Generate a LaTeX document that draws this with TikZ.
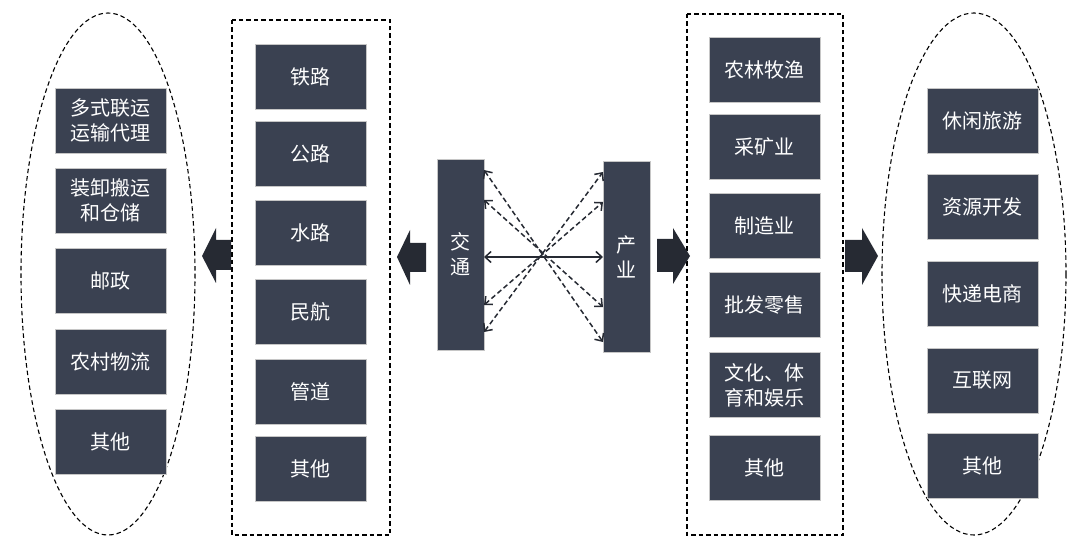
\documentclass[tikz,border=0pt]{standalone}
\usepackage{fontspec}
\setmainfont{Noto Sans CJK SC}
\usetikzlibrary{arrows.meta}
\definecolor{boxc}{RGB}{58,65,81}
\definecolor{arrc}{RGB}{38,42,51}
\begin{document}
\begin{tikzpicture}[x=1pt,y=-1pt,
  item/.style={fill=boxc, draw=gray!45, line width=0.5pt, text=white,
    font=\fontsize{20}{25}\selectfont, align=center, inner sep=0pt,
    minimum width=111pt, minimum height=65pt},
  frame/.style={draw=black, dash pattern=on 4.5pt off 3pt, line width=1.1pt},
  bigarrow/.style={fill=arrc, draw=none},
  link/.style={draw=arrc, line width=1.5pt,
    {Straight Barb[length=6pt,width=11pt]}-{Straight Barb[length=6pt,width=11pt]}},
  linkdash/.style={link, dash pattern=on 5pt off 3pt},
]
\useasboundingbox (0,0) rectangle (1071,537);

% containers
\draw[frame] (108,274) ellipse [x radius=87, y radius=261];
\draw[frame] (232,20) rectangle (390,535);
\draw[frame] (687,14) rectangle (843,535);
\draw[frame] (974,274) ellipse [x radius=92, y radius=261];

% left ellipse items
\node[item] (a1) at (110.5,120.5) {多式联运\\运输代理};
\node[item] (a2) at (110.5,200.5) {装卸搬运\\和仓储};
\node[item] (a3) at (110.5,280.5) {邮政};
\node[item] (a4) at (110.5,361.5) {农村物流};
\node[item] (a5) at (110.5,442) {其他};

% transport modes
\node[item] (b1) at (310.5,76.5) {铁路};
\node[item] (b2) at (310.5,154) {公路};
\node[item] (b3) at (310.5,232.5) {水路};
\node[item] (b4) at (310.5,312) {民航};
\node[item] (b5) at (310.5,391.5) {管道};
\node[item] (b6) at (310.5,468.5) {其他};

% industries
\node[item] (c1) at (764.5,69.5) {农林牧渔};
\node[item] (c2) at (764.5,146.5) {采矿业};
\node[item] (c3) at (764.5,225.5) {制造业};
\node[item] (c4) at (764.5,304.5) {批发零售};
\node[item] (c5) at (764.5,385) {文化、体\\育和娱乐};
\node[item] (c6) at (764.5,468) {其他};

% right ellipse items
\node[item] (d1) at (982.5,120.5) {休闲旅游};
\node[item] (d2) at (982.5,207) {资源开发};
\node[item] (d3) at (982.5,294) {快递电商};
\node[item] (d4) at (982.5,380.5) {互联网};
\node[item] (d5) at (982.5,466) {其他};

% central nodes
\node[item, minimum width=47pt, minimum height=191pt] (jt) at (460.5,254.5) {交\\通};
\node[item, minimum width=47pt, minimum height=191pt] (cy) at (626.5,256.5) {产\\业};

% connector end points on the central nodes
\coordinate (L1) at (484,170);
\coordinate (L2) at (484,200);
\coordinate (L3) at (484,257);
\coordinate (L4) at (484,305);
\coordinate (L5) at (484,332);
\coordinate (R1) at (603,172);
\coordinate (R2) at (603,202);
\coordinate (R3) at (603,257);
\coordinate (R4) at (603,307);
\coordinate (R5) at (603,342);

\draw[linkdash] (L1) -- (R5);
\draw[linkdash] (L2) -- (R4);
\draw[link] (L3) -- (R3);
\draw[linkdash] (L4) -- (R2);
\draw[linkdash] (L5) -- (R1);

% big block arrows
\fill[bigarrow] (231,240) -- (216,240) -- (216,228) -- (202,256) -- (216,283) -- (216,270) -- (231,270) -- cycle;
\fill[bigarrow] (426,243) -- (410,243) -- (410,230) -- (397,257) -- (410,285) -- (410,272) -- (426,272) -- cycle;
\fill[bigarrow] (657,239) -- (673,239) -- (673,228) -- (690,256) -- (673,284) -- (673,272) -- (657,272) -- cycle;
\fill[bigarrow] (845,240) -- (862,240) -- (862,228) -- (878,256) -- (862,285) -- (862,272) -- (845,272) -- cycle;
\end{tikzpicture}
\end{document}
